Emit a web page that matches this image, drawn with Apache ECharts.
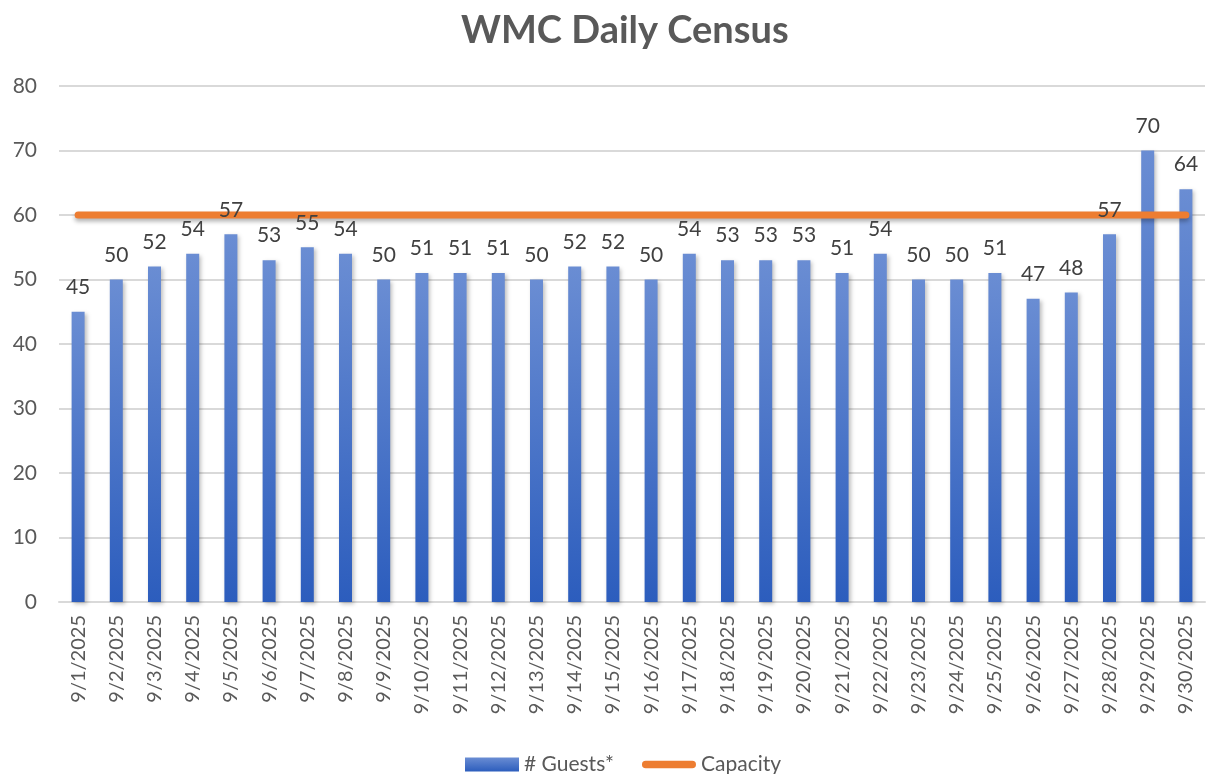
<!DOCTYPE html>
<html lang="en">
<head>
	<meta charset="UTF-8">
	<title>WMC Daily Census</title>
	<style>html,body{margin:0;padding:0;background:#fff}</style>
</head>
<body>
	<div id="main" style="width: 1210px;height: 774px"></div>
	<script src="https://cdn.jsdelivr.net/npm/echarts@6/dist/echarts.min.js"></script>
	<script>
		var days = []
		for (var d = 1; d <= 30; d++) days.push('9/' + d + '/2025')

		var guests = [45, 50, 52, 54, 57, 53, 55, 54, 50, 51, 51, 51, 50, 52, 52,
			50, 54, 53, 53, 53, 51, 54, 50, 50, 51, 47, 48, 57, 70, 64]
		var capacity = [60, 60, 60, 60, 60, 60, 60, 60, 60, 60, 60, 60, 60, 60, 60,
			60, 60, 60, 60, 60, 60, 60, 60, 60, 60, 60, 60, 60, 60, 60]

		var font = 'Lato, "Open Sans", sans-serif'
		var myChart = echarts.init(document.getElementById('main'));
		var option = {
			animation: false,
			textStyle: { fontFamily: font },
			title: {
				text: 'WMC Daily Census',
				left: 456,
				top: 7,
				textStyle: { fontSize: 38, fontWeight: 'bold', color: '#595959', fontFamily: font }
			},
			legend: {
				top: 749,
				left: 460,
				itemGap: 28,
				itemWidth: 54,
				itemHeight: 14,
				textStyle: { fontSize: 21, color: '#595959' },
				data: [
					{ name: '# Guests*', icon: 'rect' },
					{ name: 'Capacity', icon: 'path://M4,0 L54,0 A4,4 0 0 1 54,8 L4,8 A4,4 0 0 1 4,0 Z', itemStyle: { color: '#ed7d31' } }
				]
			},
			grid: { left: 59, right: 5, top: 86, bottom: 172 },
			xAxis: {
				type: 'category',
				data: days,
				axisLine: { lineStyle: { color: '#d9d9d9', width: 2 } },
				axisTick: { show: false },
				axisLabel: { rotate: 90, fontSize: 20, color: '#595959', margin: 13, interval: 0 }
			},
			yAxis: {
				type: 'value',
				min: 0,
				max: 80,
				interval: 10,
				axisLine: { show: false },
				axisTick: { show: false },
				axisLabel: { fontSize: 21, color: '#595959', margin: 22 },
				splitLine: { lineStyle: { color: '#d9d9d9', width: 2 } }
			},
			series: [{
				name: '# Guests*',
				type: 'bar',
				barWidth: 13,
				data: guests,
				z: 2,
				itemStyle: {
					color: new echarts.graphic.LinearGradient(0, 0, 0, 1, [
						{ offset: 0, color: '#6a8dd3' },
						{ offset: 1, color: '#2c5dbd' }
					]),
					shadowColor: 'rgba(0,0,0,0.25)',
					shadowBlur: 4,
					shadowOffsetX: 2,
					shadowOffsetY: 2
				}
			}, {
				name: 'Capacity',
				type: 'line',
				data: capacity,
				symbol: 'none',
				z: 3,
				lineStyle: {
					color: '#ed7d31',
					width: 7,
					cap: 'round',
					shadowColor: 'rgba(0,0,0,0.3)',
					shadowBlur: 4,
					shadowOffsetY: 3
				},
				itemStyle: { color: '#ed7d31' }
			}, {
				// labels only, drawn above the capacity line
				name: 'labels',
				type: 'bar',
				barWidth: 13,
				barGap: '-100%',
				data: guests,
				z: 5,
				silent: true,
				itemStyle: { color: 'rgba(0,0,0,0)' },
				label: { show: true, position: 'top', fontSize: 21, color: '#404040', distance: 14 }
			}]
		};
		myChart.setOption(option);
	</script>
</body>
</html>
